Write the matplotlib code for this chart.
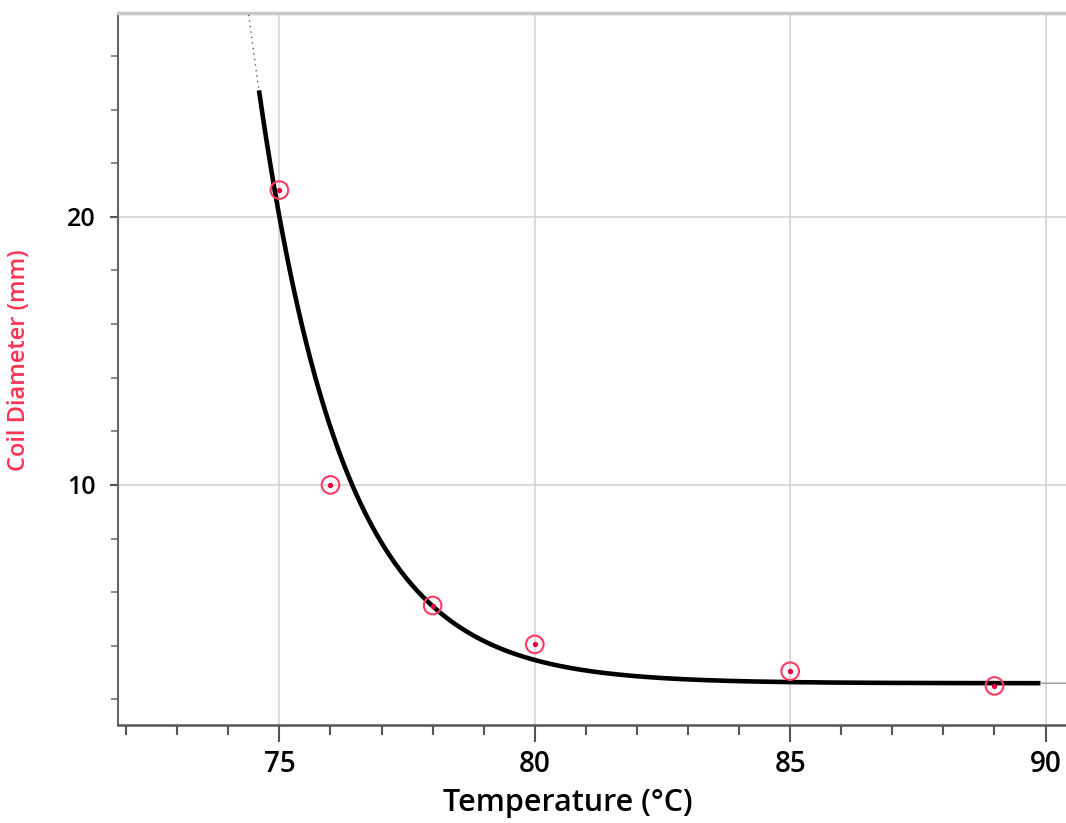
import numpy as np
import matplotlib.pyplot as plt
from matplotlib.ticker import MultipleLocator

# measured points
temperature = [75, 76, 78, 80, 85, 89]
diameter = [21.0, 10.0, 5.5, 4.05, 3.05, 2.5]

# exponential fit: y = A*exp(-k*(x-75)) + C
fit_A = 17.4
fit_k = 0.6
fit_C = 2.6
fit_range = (74.6, 89.9)

x_ticks = [75, 80, 85, 90]
y_ticks = [10, 20]

plt.rcParams['font.family'] = ['Open Sans', 'DejaVu Sans']

fig = plt.figure(figsize=(10.66, 8.23), dpi=100)
ax = fig.add_axes([0.1107, 0.119, 0.8893, 0.865])


def fit(x):
    return fit_A * np.exp(-fit_k * (x - 75)) + fit_C


xs = np.linspace(fit_range[0], fit_range[1], 400)
ax.plot(xs, fit(xs), color='black', lw=3.3, solid_capstyle='butt', zorder=3)
# dotted / grey extensions beyond the fitted range
xd = np.linspace(74.4, fit_range[0], 30)
ax.plot(xd, fit(xd), color='#555555', lw=1, ls=(0, (1, 3)), zorder=3)
xr = np.linspace(fit_range[1], 91, 20)
ax.plot(xr, fit(xr), color='#999999', lw=1, zorder=3)

ax.scatter(temperature, diameter, s=160, facecolors='none', edgecolors='#ff3a63',
           linewidths=1.5, zorder=4)
ax.scatter(temperature, diameter, s=8, color='#e8003a', zorder=5)

ax.set_xlim(71.84, 90.4)
ax.set_ylim(1.04, 27.6)

ax.set_xticks(x_ticks)
ax.set_yticks(y_ticks)
ax.xaxis.set_minor_locator(MultipleLocator(1))
ax.yaxis.set_minor_locator(MultipleLocator(2))
ax.grid(True, which='major', color='#d4d4d4', lw=1.2)
ax.set_axisbelow(True)

ax.tick_params(axis='x', which='major', length=12, width=1.5, color='#555555', labelsize=20, pad=6)
ax.tick_params(axis='x', which='minor', length=7, width=1.5, color='#555555')
ax.tick_params(axis='y', which='major', length=6, width=1.5, color='#555555', labelsize=18, pad=10)
ax.tick_params(axis='y', which='minor', length=5, width=1.2, color='#777777')
for lbl in ax.get_xticklabels() + ax.get_yticklabels():
    lbl.set_fontweight('semibold')

ax.spines['right'].set_visible(False)
ax.spines['top'].set_color('#c8c8c8')
ax.spines['top'].set_linewidth(2.5)
ax.spines['left'].set_color('#666666')
ax.spines['left'].set_linewidth(1.5)
ax.spines['bottom'].set_color('#555555')
ax.spines['bottom'].set_linewidth(1.8)

ax.set_xlabel('Temperature (°C)', fontsize=22, fontweight='semibold')
ax.xaxis.set_label_coords(0.475, -0.088)
ax.set_ylabel('Coil Diameter (mm)', fontsize=17, fontweight='semibold', color='#ff3355')
ax.yaxis.set_label_coords(-0.092, 0.512)

fig.savefig('out.png', dpi=100)
